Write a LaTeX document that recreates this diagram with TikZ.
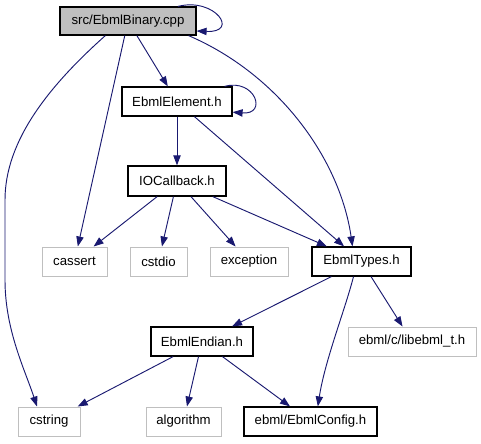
\documentclass[tikz,border=0pt]{standalone}
\usepackage{fontspec}
\setmainfont{Liberation Sans}
\usepackage{xcolor}
\usepackage{tikz}
\usetikzlibrary{arrows.meta}

\definecolor{arestacor}{RGB}{25,25,112}
\definecolor{cinzacaixa}{RGB}{191,191,191}

\begin{document}
\begin{tikzpicture}[
            x=0.75pt, y=-0.75pt,
            arquivo/.style={draw=black, line width=0.9pt, minimum height=21.75pt, inner sep=0pt, font=\fontsize{9.9}{12}\selectfont},
            externo/.style={arquivo, draw=cinzacaixa, line width=0.75pt},
            raiz/.style={arquivo, fill=cinzacaixa},
            inclui/.style={draw=arestacor, line width=0.7pt, -{Triangle[length=7.5pt, width=5.5pt]}}
        ]
            \useasboundingbox (0,0) rectangle (481,443);

            % Arquivos do grafo de inclusão
            \node[raiz, minimum width=102pt, minimum height=21pt] (bin) at (128,21) {src/EbmlBinary.cpp};
            \node[arquivo, minimum width=82.5pt] (elem) at (177,101.5) {EbmlElement.h};
            \node[arquivo, minimum width=73.5pt, minimum height=22.5pt] (ioc) at (177,181) {IOCallback.h};
            \node[externo, minimum width=48.75pt] (cassert) at (74.5,261.5) {cassert};
            \node[externo, minimum width=42.75pt] (cstdio) at (158.5,261.5) {cstdio};
            \node[externo, minimum width=58.5pt] (exception) at (249,261.5) {exception};
            \node[arquivo, minimum width=74.25pt] (types) at (361.5,261.5) {EbmlTypes.h};
            \node[arquivo, minimum width=76.5pt] (endian) at (202,341.5) {EbmlEndian.h};
            \node[externo, minimum width=96pt] (libebml) at (412,341.5) {ebml/c/libebml\_t.h};
            \node[externo, minimum width=46.5pt] (cstring) at (49,421.5) {cstring};
            \node[externo, minimum width=56.25pt] (algorithm) at (183.5,421.5) {algorithm};
            \node[arquivo, minimum width=99.75pt] (config) at (310.5,421.5) {ebml/EbmlConfig.h};

            % Arestas saindo de src/EbmlBinary.cpp
            \draw[inclui] ([xshift=-14pt]bin.north east) .. controls (215,-3) and (240,33) .. ([yshift=-7.5pt]bin.east);
            \draw[inclui] (bin) -- (elem);
            \draw[inclui] (bin) -- (cassert);
            \draw[inclui] ([xshift=-17pt]bin.south) .. controls (50,85) and (5,140) .. (5,200)
                -- (5,280) .. controls (5,330) and (25,370) .. ([xshift=-9pt]cstring.north);
            \draw[inclui] ([xshift=-6pt]bin.south east) .. controls (280,75) and (340,160) .. ([xshift=-6.75pt]types.north);

            % Arestas de EbmlElement.h e IOCallback.h
            \draw[inclui] ([xshift=-6pt]elem.north east) .. controls (255,78) and (268,115) .. ([yshift=-8pt]elem.east);
            \draw[inclui] (elem) -- (ioc);
            \draw[inclui] (elem) -- (types);
            \draw[inclui] (ioc) -- (cassert);
            \draw[inclui] (ioc) -- (cstdio);
            \draw[inclui] (ioc) -- (exception);
            \draw[inclui] (ioc) -- (types);

            % Arestas de EbmlTypes.h e EbmlEndian.h
            \draw[inclui] (types) -- (endian);
            \draw[inclui] (types) -- (libebml);
            \draw[inclui] ([xshift=-6pt]types.south) .. controls (345,310) and (325,360) .. ([xshift=5.5pt]config.north);
            \draw[inclui] (endian) -- (cstring);
            \draw[inclui] (endian) -- (algorithm);
            \draw[inclui] (endian) -- (config);
        \end{tikzpicture}
\end{document}
